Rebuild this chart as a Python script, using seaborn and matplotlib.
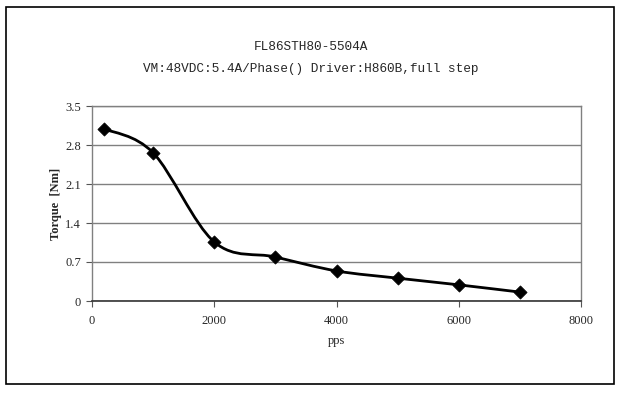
import numpy as np
import pandas as pd
import matplotlib
matplotlib.use("Agg")
import matplotlib.pyplot as plt
import seaborn as sns
from matplotlib.path import Path
from matplotlib.patches import PathPatch, Rectangle

# Data
speed_pps = [200, 1000, 2000, 3000, 4000, 5000, 6000, 7000]
torque_nm = [3.09, 2.66, 1.06, 0.79, 0.54, 0.41, 0.29, 0.16]
x_ticks = [0, 2000, 4000, 6000, 8000]
y_ticks = [0, 0.7, 1.4, 2.1, 2.8, 3.5]
y_tick_labels = ["0", "0.7", "1.4", "2.1", "2.8", "3.5"]
title_line1 = "FL86STH80-5504A"
title_line2 = "VM:48VDC:5.4A/Phase() Driver:H860B,full step"

sns.set_style("white")
plt.rcParams['font.family'] = ['Liberation Serif', 'DejaVu Serif']

fig = plt.figure(figsize=(6.37, 4.05), dpi=100)
ax = fig.add_axes([92/637, 1-301/405, (581-92)/637, (301-106)/405])

df = pd.DataFrame({"pps": speed_pps, "torque": torque_nm})

# Smoothed line (Catmull-Rom style Bezier, like spreadsheet smoothing)
pts = np.column_stack([speed_pps, torque_nm]).astype(float)
ext = np.vstack([pts[0], pts, pts[-1]])
verts = [tuple(pts[0])]
codes = [Path.MOVETO]
for i in range(len(pts) - 1):
    p0, p1, p2, p3 = ext[i], ext[i+1], ext[i+2], ext[i+3]
    c1 = p1 + (p2 - p0) / 6.0
    c2 = p2 - (p3 - p1) / 6.0
    verts += [tuple(c1), tuple(c2), tuple(p2)]
    codes += [Path.CURVE4] * 3
ax.add_patch(PathPatch(Path(verts, codes), facecolor='none', edgecolor='black',
                       lw=2.0, zorder=3, transform=ax.transData))

sns.scatterplot(data=df, x="pps", y="torque", marker="D", s=45, color="black",
                edgecolor="black", ax=ax, zorder=4, legend=False)

ax.set_xlim(0, 8000)
ax.set_ylim(0, 3.5)
ax.set_xticks(x_ticks)
ax.set_xticklabels([str(t) for t in x_ticks], fontsize=9)
ax.set_yticks(y_ticks)
ax.set_yticklabels(y_tick_labels, fontsize=9)
ax.yaxis.grid(True, color="#808080", lw=1.0)
ax.xaxis.grid(False)
ax.tick_params(axis='x', direction='out', length=4, width=0.8, color="#555555",
               bottom=True, pad=6)
ax.tick_params(axis='y', direction='out', length=4, width=0.8, color="#555555",
               left=True, pad=4)
for s in ['top', 'right', 'left']:
    ax.spines[s].set_color("#808080")
    ax.spines[s].set_linewidth(1.0)
ax.spines['bottom'].set_color("#333333")
ax.spines['bottom'].set_linewidth(1.2)

ax.set_xlabel("pps", fontsize=9, labelpad=6)
ax.set_ylabel("Torque  [Nm]", fontsize=9, fontweight='bold', labelpad=2)

fig.text(311/637, 1-47/405, title_line1, ha='center', va='center', fontsize=9.2,
         family=['Liberation Mono', 'DejaVu Sans Mono'])
fig.text(311/637, 1-69/405, title_line2, ha='center', va='center', fontsize=9.2,
         family=['Liberation Mono', 'DejaVu Sans Mono'])

fig.patches.append(Rectangle((6/637, 1-384/405), 608/637, 377/405, transform=fig.transFigure,
                             fill=False, edgecolor='black', lw=1.2))

fig.savefig("out.png", dpi=100)
